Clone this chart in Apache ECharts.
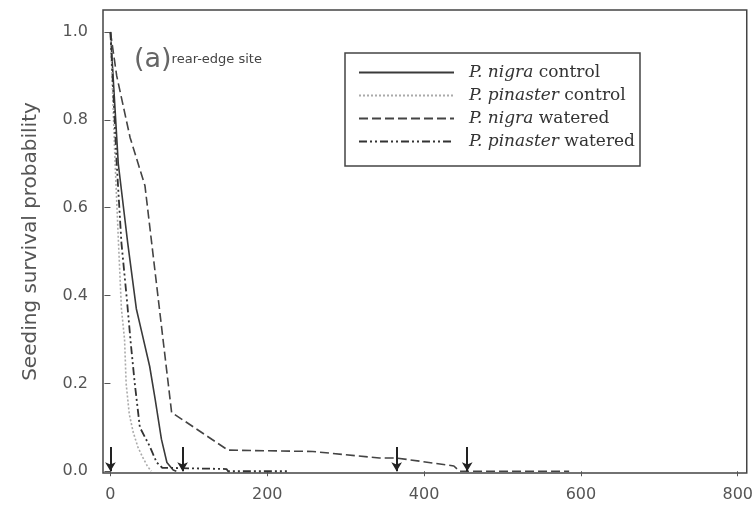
<!DOCTYPE html>
<html>
<head>
<meta charset="utf-8">
<script src="https://cdn.jsdelivr.net/npm/echarts@6/dist/echarts.min.js"></script>
<style>html,body{margin:0;padding:0;background:#fff;}#c{width:756px;height:509px;}</style>
</head>
<body>
<div id="c"></div>
<script>
// ---- data (days since planting, survival probability) ----
const xTicks = [0, 200, 400, 600, 800];
const yTicks = [0, 0.2, 0.4, 0.6, 0.8, 1.0];

const nigraControlX = [0, 5, 10, 22, 33, 40, 50, 57, 65, 72, 80, 84];
const nigraControlY = [1.0, 0.85, 0.7, 0.52, 0.37, 0.316, 0.239, 0.164, 0.073, 0.02, 0.003, 0.0];

const pinasterControlX = [0, 3, 6, 10, 14, 18, 20, 24, 29, 35, 41, 47, 52];
const pinasterControlY = [1.0, 0.85, 0.7, 0.53, 0.37, 0.3, 0.2, 0.13, 0.089, 0.055, 0.032, 0.012, 0.0];

const nigraWateredX = [0, 8, 25, 44, 78, 150, 258, 343, 365, 394, 438, 445, 585];
const nigraWateredY = [1.0, 0.9, 0.76, 0.65, 0.134, 0.048, 0.045, 0.03, 0.03, 0.023, 0.012, 0.0, 0.0];

const pinasterWateredX = [0, 4, 8, 14, 21, 26, 31, 37.5, 50, 59, 66, 148, 150, 225];
const pinasterWateredY = [1.0, 0.85, 0.7, 0.52, 0.39, 0.29, 0.2, 0.1, 0.057, 0.02, 0.008, 0.005, 0.0, 0.0];

const arrowX = [0, 92, 365, 455];
const arrowTop = 0.055;

const seriesNames = ['P. nigra control', 'P. pinaster control', 'P. nigra watered', 'P. pinaster watered'];

function pairs(xs, ys) { return xs.map((x, i) => [x, ys[i]]); }

const chart = echarts.init(document.getElementById('c'), null, {renderer: 'canvas'});

function lineSeries(name, xs, ys, color, type, width) {
  return {
    name: name, type: 'line', data: pairs(xs, ys), symbol: 'none', smooth: false,
    lineStyle: {color: color, type: type, width: width},
    itemStyle: {color: color},
    silent: true, animation: false, z: 3
  };
}

const option = {
  animation: false,
  backgroundColor: '#fff',
  title: {
    text: '{a|(a)}{b|rear-edge site}',
    left: 129, top: 38,
    textStyle: {
      fontWeight: 'normal',
      rich: {
        a: {fontFamily: 'DejaVu Sans', fontSize: 27, fontWeight: 'normal', color: '#666', verticalAlign: 'bottom', lineHeight: 30},
        b: {fontFamily: 'DejaVu Sans', fontSize: 13, fontWeight: 'normal', color: '#444', verticalAlign: 'bottom', lineHeight: 30, padding: [0, 0, 7, 0]}
      }
    }
  },
  grid: {
    left: 103, top: 10, right: 8, bottom: 36,
    show: true, borderColor: '#444', borderWidth: 1.5, backgroundColor: 'transparent'
  },
  legend: {
    data: seriesNames,
    orient: 'vertical',
    left: 345, top: 53,
    padding: [11, 5, 16, 13],
    itemWidth: 95, itemHeight: 14, itemGap: 6,
    borderColor: '#444', borderWidth: 1.5,
    itemStyle: {opacity: 0},
    formatter: function (name) {
      const parts = name.split(' ');
      return '{i|' + parts[0] + ' ' + parts[1] + '} ' + parts.slice(2).join(' ');
    },
    textStyle: {
      fontFamily: 'DejaVu Serif', fontSize: 17, color: '#333', lineHeight: 17,
      padding: [0, 0, 0, 10],
      rich: {
        i: {fontFamily: 'DejaVu Serif', fontSize: 17, fontStyle: 'italic', color: '#333', lineHeight: 17}
      }
    },
    selectedMode: false
  },
  xAxis: {
    type: 'value', min: -9.5, max: 811.5,
    axisLine: {show: false},
    splitLine: {show: false},
    axisTick: {show: true, customValues: xTicks, length: 5, lineStyle: {color: '#555', width: 1}},
    axisLabel: {customValues: xTicks, fontFamily: 'DejaVu Sans', fontSize: 16, color: '#555', margin: 14}
  },
  yAxis: {
    type: 'value', min: -0.004, max: 1.05,
    name: 'Seeding survival probability',
    nameLocation: 'middle', nameGap: 62,
    nameTextStyle: {fontFamily: 'DejaVu Sans', fontSize: 20, color: '#555'},
    axisLine: {show: false},
    splitLine: {show: false},
    axisTick: {show: true, customValues: yTicks, length: 6, lineStyle: {color: '#555', width: 1}},
    axisLabel: {customValues: yTicks, fontFamily: 'DejaVu Sans', fontSize: 16, color: '#555', margin: 15,
      formatter: function (v) { return v.toFixed(1); }}
  },
  series: [
    lineSeries(seriesNames[0], nigraControlX, nigraControlY, '#3a3a3a', 'solid', 1.6),
    lineSeries(seriesNames[1], pinasterControlX, pinasterControlY, '#aaaaaa', [2, 2], 1.6),
    lineSeries(seriesNames[2], nigraWateredX, nigraWateredY, '#444444', [9, 4], 1.6),
    lineSeries(seriesNames[3], pinasterWateredX, pinasterWateredY, '#333333', [8, 3, 2, 3, 2, 3], 1.8),
    {
      name: 'arrows', type: 'line', data: [], symbol: 'none', silent: true,
      markLine: {
        silent: true, animation: false,
        symbol: ['none', 'arrow'], symbolSize: [8, 9],
        label: {show: false},
        lineStyle: {color: '#222', width: 2, type: 'solid'},
        data: arrowX.map(x => [{coord: [x, arrowTop]}, {coord: [x, 0]}])
      }
    }
  ]
};
chart.setOption(option);
</script>
</body>
</html>
